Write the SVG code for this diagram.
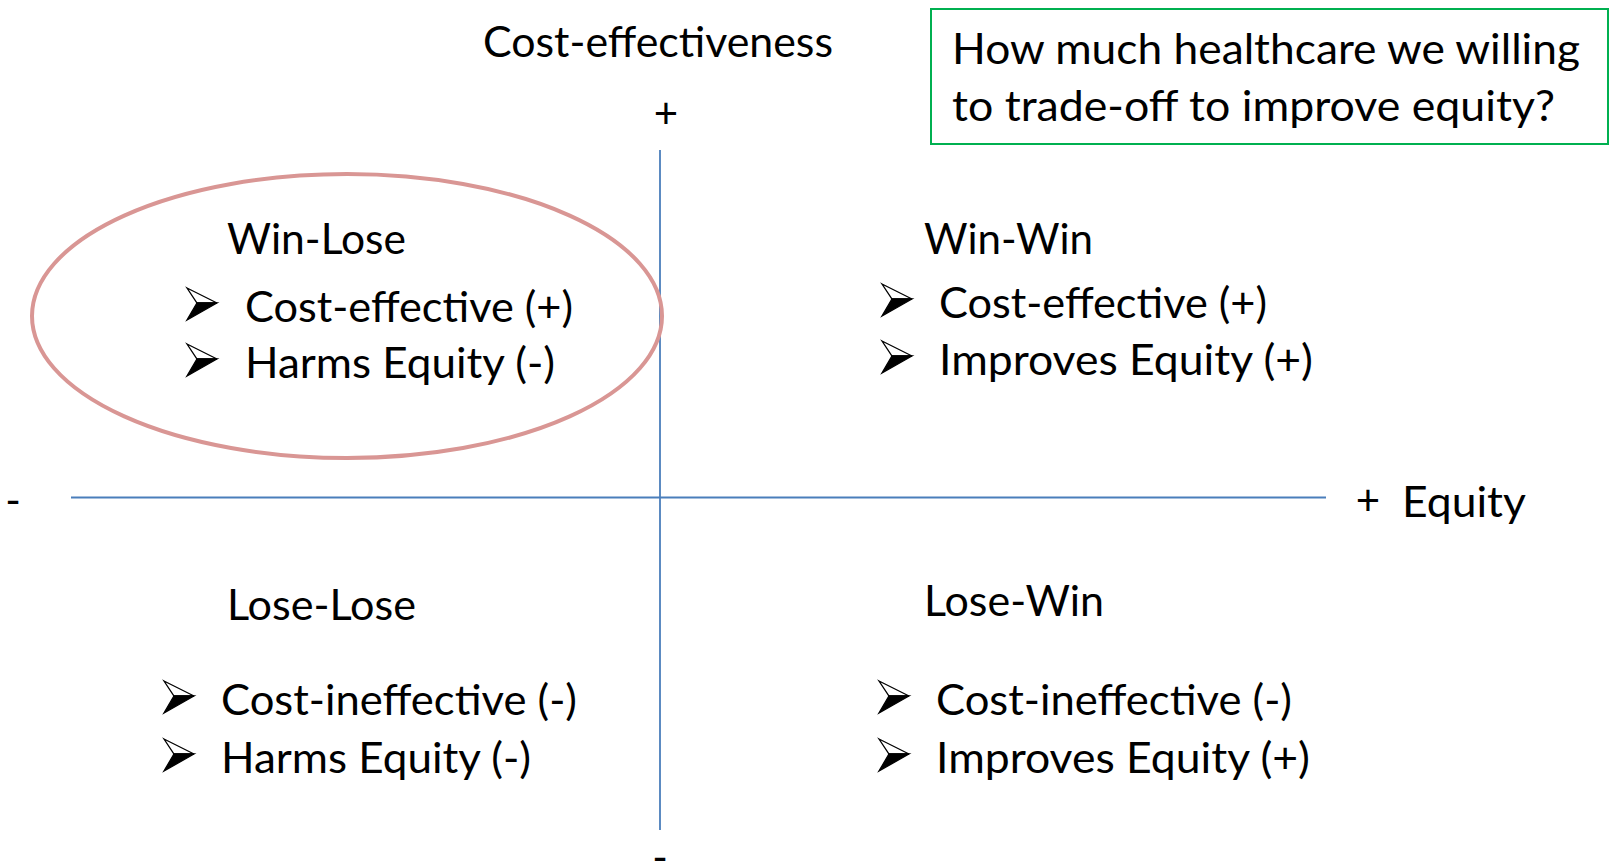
<svg xmlns="http://www.w3.org/2000/svg" xmlns:xlink="http://www.w3.org/1999/xlink" width="1612" height="866" viewBox="0 0 1612 866">
  <style>
    text { font-family: Lato, "Open Sans", "Liberation Sans", sans-serif; font-size: 42px; fill: #000; }
    .axis { stroke: #4A7EBB; stroke-width: 1.8; fill: none; }
    .highlight { stroke: #D99694; stroke-width: 4; fill: none; }
    .note { stroke: #00B050; stroke-width: 2; fill: #fff; }
  </style>
  <defs>
    <!-- Arrowhead bullet: white upper facet, black lower facet; origin at text baseline -->
    <g id="bullet">
      <polygon points="0,-34 30,-19 10,-19" fill="#fff" stroke="#000" stroke-width="1.3" stroke-linejoin="miter"/>
      <polygon points="10,-19 30,-19 0,-2" fill="#000" stroke="#000" stroke-width="1.3" stroke-linejoin="miter"/>
    </g>
  </defs>

  <rect width="1612" height="866" fill="#fff"/>

  <!-- Axes -->
  <g id="connectors">
    <line class="axis" x1="71" y1="497.5" x2="1326" y2="497.5"/>
    <line class="axis" x1="660" y1="150" x2="660" y2="830"/>
  </g>

  <!-- Axis labels -->
  <g id="axis-labels">
    <text x="483" y="57" textLength="350" lengthAdjust="spacingAndGlyphs">Cost-effectiveness</text>
    <text x="666" y="128" text-anchor="middle">+</text>
    <text x="660" y="872" text-anchor="middle">-</text>
    <text x="13" y="515" text-anchor="middle">-</text>
    <text x="1368" y="515" text-anchor="middle">+</text>
    <text x="1402" y="517" textLength="124" lengthAdjust="spacingAndGlyphs">Equity</text>
  </g>

  <!-- Question box -->
  <g id="question">
    <rect class="note" x="931" y="9" width="677" height="135"/>
    <text x="952" y="64" textLength="628" lengthAdjust="spacingAndGlyphs">How much healthcare we willing</text>
    <text x="952" y="121" textLength="603" lengthAdjust="spacingAndGlyphs">to trade-off to improve equity?</text>
  </g>

  <!-- Upper-left quadrant, circled -->
  <g id="win-lose">
    <ellipse class="highlight" cx="347" cy="316" rx="315" ry="142"/>
    <text x="227" y="254" textLength="179" lengthAdjust="spacingAndGlyphs">Win-Lose</text>
    <use xlink:href="#bullet" x="187" y="322"/>
    <text x="245" y="322" textLength="328" lengthAdjust="spacingAndGlyphs">Cost-effective (+)</text>
    <use xlink:href="#bullet" x="187" y="378"/>
    <text x="245" y="378" textLength="310" lengthAdjust="spacingAndGlyphs">Harms Equity (-)</text>
  </g>

  <!-- Upper-right quadrant -->
  <g id="win-win">
    <text x="924" y="254" textLength="169" lengthAdjust="spacingAndGlyphs">Win-Win</text>
    <use xlink:href="#bullet" x="882" y="318"/>
    <text x="939" y="318" textLength="328" lengthAdjust="spacingAndGlyphs">Cost-effective (+)</text>
    <use xlink:href="#bullet" x="882" y="375"/>
    <text x="939" y="375" textLength="374" lengthAdjust="spacingAndGlyphs">Improves Equity (+)</text>
  </g>

  <!-- Lower-left quadrant -->
  <g id="lose-lose">
    <text x="227" y="620" textLength="189" lengthAdjust="spacingAndGlyphs">Lose-Lose</text>
    <use xlink:href="#bullet" x="164" y="715"/>
    <text x="221" y="715" textLength="356" lengthAdjust="spacingAndGlyphs">Cost-ineffective (-)</text>
    <use xlink:href="#bullet" x="164" y="773"/>
    <text x="221" y="773" textLength="310" lengthAdjust="spacingAndGlyphs">Harms Equity (-)</text>
  </g>

  <!-- Lower-right quadrant -->
  <g id="lose-win">
    <text x="924" y="616" textLength="180" lengthAdjust="spacingAndGlyphs">Lose-Win</text>
    <use xlink:href="#bullet" x="879" y="715"/>
    <text x="936" y="715" textLength="356" lengthAdjust="spacingAndGlyphs">Cost-ineffective (-)</text>
    <use xlink:href="#bullet" x="879" y="773"/>
    <text x="936" y="773" textLength="374" lengthAdjust="spacingAndGlyphs">Improves Equity (+)</text>
  </g>
</svg>
